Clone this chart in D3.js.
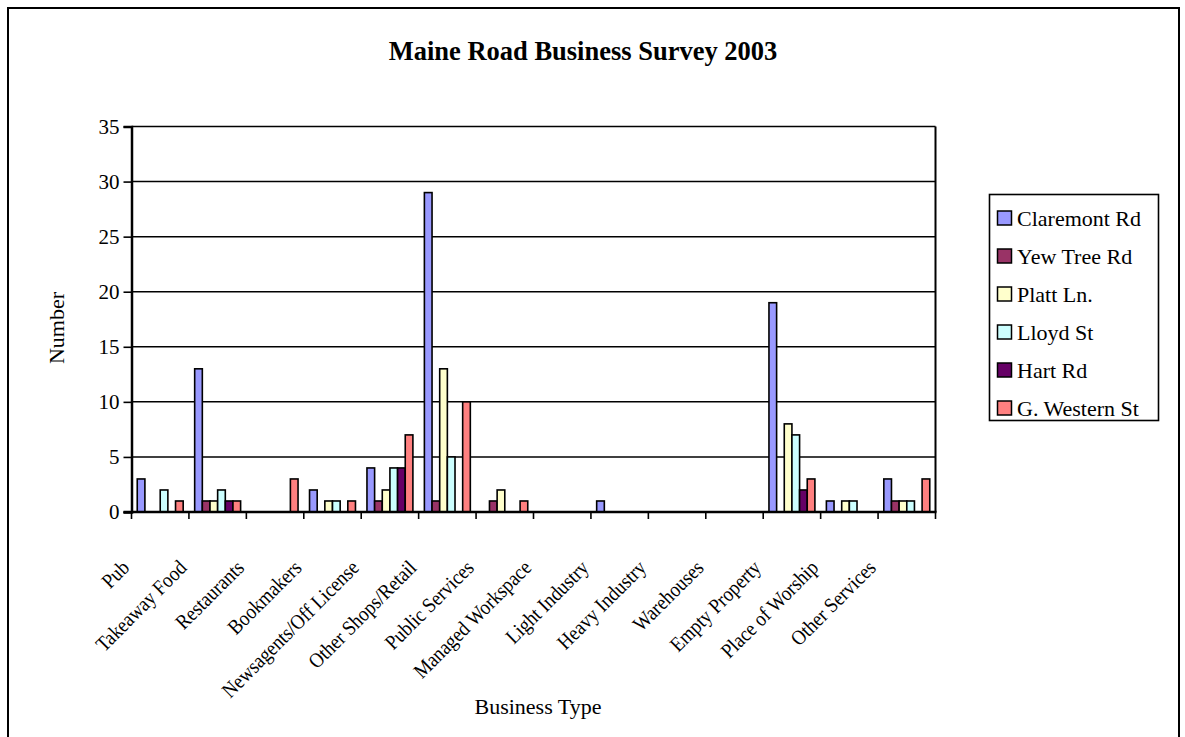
<!DOCTYPE html>
<html>
<head>
<meta charset="utf-8">
<script src="https://cdn.jsdelivr.net/npm/d3@7"></script>
<style>
  html, body { margin: 0; padding: 0; background: #fff; }
  svg { display: block; }
  text { font-family: "Liberation Serif", "Times New Roman", "DejaVu Serif", serif; fill: #000; }
</style>
</head>
<body>
<svg id="chart" width="1185" height="737"></svg>
<script>
// Business counts per street, one array per street, in category order
const categories = [
  "Pub", "Takeaway Food", "Restaurants", "Bookmakers", "Newsagents/Off License",
  "Other Shops/Retail", "Public Services", "Managed Workspace", "Light Industry",
  "Heavy Industry", "Warehouses", "Empty Property", "Place of Worship", "Other Services"
];
const seriesNames = ["Claremont Rd", "Yew Tree Rd", "Platt Ln.", "Lloyd St", "Hart Rd", "G. Western St"];
const claremontRd = [3, 13, 0, 2, 4, 29, 0, 0, 1, 0, 0, 19, 1, 3];
const yewTreeRd   = [0, 1, 0, 0, 1, 1, 1, 0, 0, 0, 0, 0, 0, 1];
const plattLn     = [0, 1, 0, 1, 2, 13, 2, 0, 0, 0, 0, 8, 1, 1];
const lloydSt     = [2, 2, 0, 1, 4, 5, 0, 0, 0, 0, 0, 7, 1, 1];
const hartRd      = [0, 1, 0, 0, 4, 0, 0, 0, 0, 0, 0, 2, 0, 0];
const gWesternSt  = [1, 1, 3, 1, 7, 10, 1, 0, 0, 0, 0, 3, 0, 3];
const seriesColors = ["#9999FF", "#993366", "#FFFFCC", "#CCFFFF", "#660066", "#FF8080"];
const yTicks = [0, 5, 10, 15, 20, 25, 30, 35];

const seriesValues = [claremontRd, yewTreeRd, plattLn, lloydSt, hartRd, gWesternSt];

const svg = d3.select("#chart");
const plot = { left: 131.5, right: 935.5, top: 126.5, bottom: 512 };

// outer chart frame
svg.append("rect")
  .attr("x", 8).attr("y", 8).attr("width", 1171).attr("height", 760)
  .attr("fill", "#fff").attr("stroke", "#000").attr("stroke-width", 2);

// title
svg.append("text")
  .attr("x", 583).attr("y", 60)
  .attr("text-anchor", "middle")
  .style("font-size", "26.5px").style("font-weight", "bold")
  .text("Maine Road Business Survey 2003");

const x0 = d3.scaleBand().domain(categories).range([plot.left, plot.right]).paddingInner(0).paddingOuter(0);
const x1 = d3.scaleBand().domain(seriesNames).range([0, x0.bandwidth()]).paddingInner(0).paddingOuter(0.75);
const y = d3.scaleLinear().domain([0, 35]).range([plot.bottom, plot.top]);

// horizontal gridlines
svg.append("g")
  .selectAll("line")
  .data(yTicks.filter(t => t > 0))
  .join("line")
  .attr("x1", plot.left).attr("x2", plot.right)
  .attr("y1", d => y(d)).attr("y2", d => y(d))
  .attr("stroke", "#000").attr("stroke-width", 1.5);

// right edge of plot area
svg.append("line")
  .attr("x1", plot.right).attr("x2", plot.right)
  .attr("y1", plot.top).attr("y2", plot.bottom)
  .attr("stroke", "#000").attr("stroke-width", 2);

// bars
const rows = categories.map((c, i) => ({ cat: c, vals: seriesNames.map((s, j) => ({ s, j, v: seriesValues[j][i] })) }));
svg.append("g")
  .selectAll("g")
  .data(rows)
  .join("g")
  .attr("transform", d => `translate(${x0(d.cat)},0)`)
  .selectAll("rect")
  .data(d => d.vals.filter(e => e.v > 0))
  .join("rect")
  .attr("x", d => x1(d.s))
  .attr("width", x1.bandwidth())
  .attr("y", d => y(d.v))
  .attr("height", d => y(0) - y(d.v))
  .attr("fill", d => seriesColors[d.j])
  .attr("stroke", "#000").attr("stroke-width", 1.6);

// y axis
const yAxis = svg.append("g")
  .attr("transform", `translate(${plot.left},0)`)
  .call(d3.axisLeft(y).tickValues(yTicks).tickSize(8).tickPadding(4).tickFormat(d3.format("d")));
yAxis.select(".domain").attr("stroke-width", 2.5);
yAxis.selectAll(".tick line").attr("stroke-width", 1.6);
yAxis.selectAll(".tick text")
  .style("font-family", '"Liberation Serif", "Times New Roman", serif')
  .style("font-size", "21px");

// x axis: ticks at category boundaries
const boundaries = categories.map(c => x0(c)).concat([plot.right]);
svg.append("line")
  .attr("x1", plot.left - 8).attr("x2", plot.right + 1)
  .attr("y1", plot.bottom).attr("y2", plot.bottom)
  .attr("stroke", "#000").attr("stroke-width", 2.5);
svg.append("g")
  .selectAll("line")
  .data(boundaries)
  .join("line")
  .attr("x1", d => d).attr("x2", d => d)
  .attr("y1", plot.bottom).attr("y2", plot.bottom + 7)
  .attr("stroke", "#000").attr("stroke-width", 1.6);

// rotated category labels
svg.append("g")
  .selectAll("text")
  .data(categories)
  .join("text")
  .attr("transform", d => `translate(${x0(d) - 1},569) rotate(-45) scale(0.89,1)`)
  .attr("text-anchor", "end")
  .style("font-size", "21px")
  .text(d => d);

// axis titles
svg.append("text")
  .attr("transform", "translate(64,328) rotate(-90)")
  .attr("text-anchor", "middle")
  .style("font-size", "22px")
  .text("Number");
svg.append("text")
  .attr("x", 538).attr("y", 714)
  .attr("text-anchor", "middle")
  .style("font-size", "22px")
  .text("Business Type");

// legend
const legend = svg.append("g");
legend.append("rect")
  .attr("x", 989.5).attr("y", 194.5).attr("width", 169).attr("height", 226)
  .attr("fill", "#fff").attr("stroke", "#000").attr("stroke-width", 1.6);
const items = legend.selectAll("g.item")
  .data(seriesNames)
  .join("g")
  .attr("class", "item")
  .attr("transform", (d, i) => `translate(0,${218 + i * 38})`);
items.append("rect")
  .attr("x", 997.5).attr("y", -7).attr("width", 14).attr("height", 14)
  .attr("fill", (d, i) => seriesColors[i])
  .attr("stroke", "#000").attr("stroke-width", 1.5);
items.append("text")
  .attr("x", 1017).attr("y", 7.5)
  .style("font-size", "22px")
  .text(d => d);
</script>
</body>
</html>
